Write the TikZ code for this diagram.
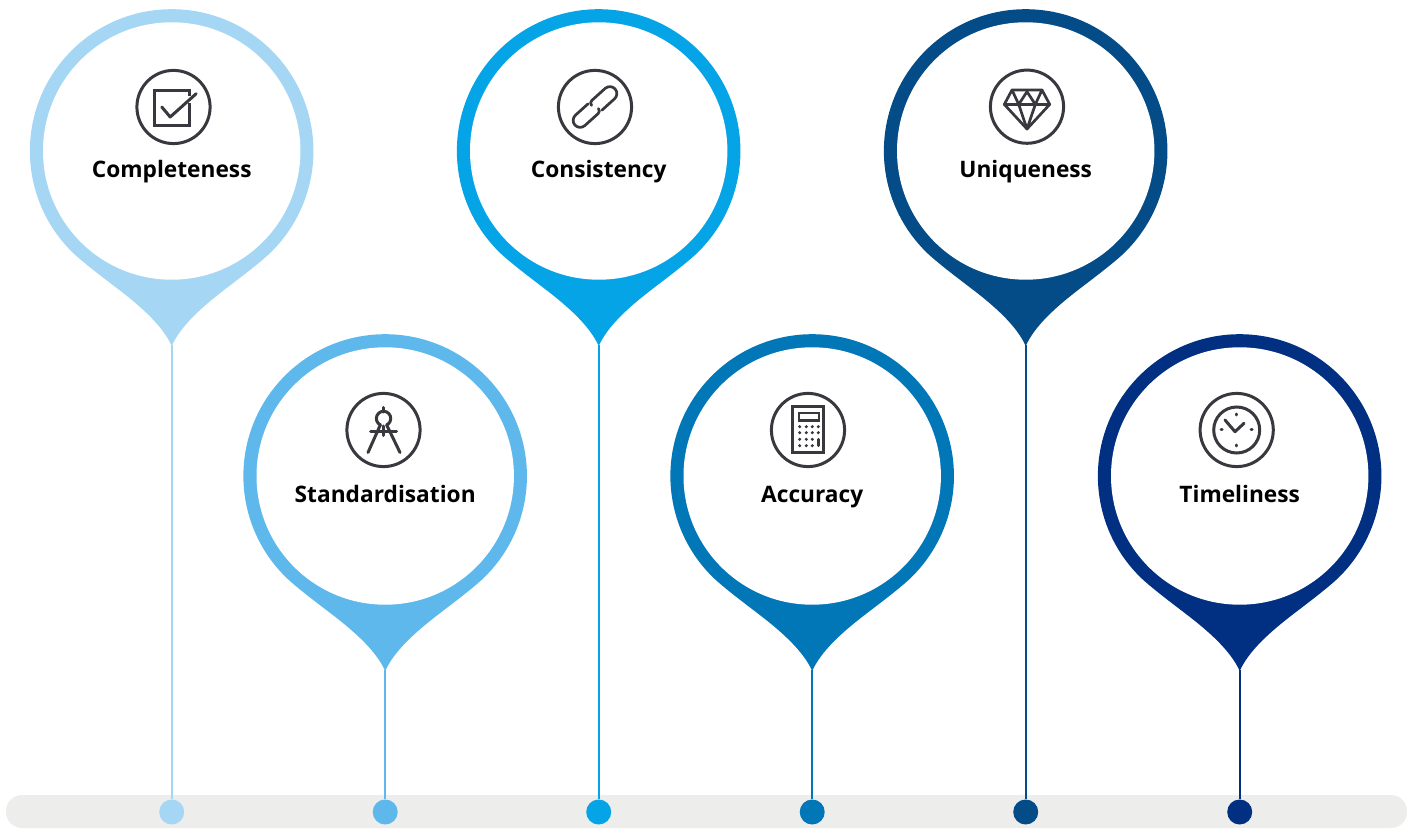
\documentclass[tikz,border=0pt]{standalone}
\usepackage{fontspec}
\setmainfont{Open Sans}
\definecolor{ca}{HTML}{A5D7F5}
\definecolor{cb}{HTML}{5FB8EC}
\definecolor{cc}{HTML}{05A4E6}
\definecolor{cd}{HTML}{0277B8}
\definecolor{ce}{HTML}{034C87}
\definecolor{cf}{HTML}{012F81}
\definecolor{barc}{HTML}{EDEDEC}
\definecolor{iconc}{HTML}{38383E}
\tikzset{
  pinlabel/.style={font=\fontsize{22.7pt}{26pt}\selectfont\bfseries,text=black,anchor=base,inner sep=0pt},
  dotnode/.style={circle,minimum size=25pt,inner sep=0pt,fill=#1},
  stem/.style={draw=#1,line width=2pt},
  iconring/.style={draw=iconc,line width=3pt},
  iconline/.style={draw=iconc,line width=3pt,line cap=round,line join=round},
  iconthin/.style={draw=iconc,line width=2.7pt,line cap=round,line join=round},
}
% name, cx, cy(from top), colour, label
\newcommand{\makepin}[5]{%
  \begin{scope}[shift={(#2,828-#3)}]
    \fill[#4] (0,-195) .. controls (-9,-175) and (-30,-156) .. (-55,-137)
      .. controls (-70,-125.5) and (-84,-115) .. (-96.2,-104.2)
      arc[start angle=227.3,end angle=-47.3,radius=141.8]
      .. controls (84,-115) and (70,-125.5) .. (55,-137)
      .. controls (30,-156) and (9,-175) .. (0,-195) -- cycle;
    \fill[white] (0,0) circle[radius=128.7];
    \coordinate (#1-tip) at (0,-194);
  \end{scope}
  \node[pinlabel] (#1-label) at (#2,828-#3-27) {#5};
  \node[dotnode=#4] (#1-dot) at (#2,16) {};
  \draw[stem=#4] (#1-tip) -- (#1-dot);
}
\newcommand{\iconat}[3]{\begin{scope}[shift={(#1,828-#2)},yscale=-1]
  \draw[iconring] (0,0) circle[radius=36.6];
  #3
\end{scope}}
\begin{document}
\begin{tikzpicture}[x=1pt,y=1pt]
\useasboundingbox (0,0) rectangle (1413,828);
\fill[barc,rounded corners=16pt] (6,0) rectangle (1407,33);
\makepin{a}{171.7}{151}{ca}{Completeness}
\makepin{b}{385.2}{476}{cb}{Standardisation}
\makepin{c}{598.7}{151}{cc}{Consistency}
\makepin{d}{812.2}{476}{cd}{Accuracy}
\makepin{e}{1025.7}{151}{ce}{Uniqueness}
\makepin{f}{1239.7}{476}{cf}{Timeliness}
% checkbox
\iconat{173.5}{107}{
  \draw[iconline,line cap=butt,line join=miter] (15.7,-10.5) -- (15.7,-16) -- (-19.3,-16) -- (-19.3,18.3) -- (15.7,18.3) -- (15.7,-4);
  \draw[iconline] (-11.7,0) -- (-3.3,10) -- (22.7,-13.3);
}
% compass
\iconat{383.5}{430}{
  \draw[iconline] (0,-22.5) -- (0,-18);
  \draw[iconline] (-3,-5) arc[start angle=115,end angle=425,radius=7.2];
  \draw[iconline] (-3.2,-5) -- (-15.5,22.5);
  \draw[iconline] (3.2,-5) -- (16.5,22.5);
  \draw[iconline] (-13,1.5) -- (13,1.5);
  \draw[iconline] (0,-4) -- (0,5.5);
}
% link
\iconat{595}{107}{
  \begin{scope}[rotate=-42]
    \draw[iconthin] (3,7) -- (20,7) arc[start angle=90,end angle=-90,radius=7] -- (2,-7) arc[start angle=270,end angle=180,radius=3.5];
    \draw[iconthin] (-3,-7) -- (-20,-7) arc[start angle=270,end angle=90,radius=7] -- (-2,7) arc[start angle=90,end angle=0,radius=3.5];
  \end{scope}
}
% calculator
\iconat{808}{430}{
  \draw[iconline,line cap=butt,line join=miter] (-15.7,-23.3) rectangle (15.7,22.7);
  \draw[iconline,line width=2.4pt,line cap=butt,line join=miter] (-9.3,-16.7) rectangle (10.7,-9.3);
  \foreach \yy in {-3.3,2.7,9.3,15.7}{
    \foreach \xx in {-8.3,-1.7,4.3}{\fill[iconc] (\xx,\yy) circle[radius=1.7];}
  }
  \foreach \yy in {-3.3,2.7}{\fill[iconc] (10.3,\yy) circle[radius=1.7];}
  \draw[iconline,line width=2.8pt,line cap=round] (10.3,9.3) -- (10.3,15.7);
}
% diamond
\iconat{1027}{106.7}{
  \draw[iconthin] (-15,-16.7) -- (15,-16.7) -- (22.7,-2.3) -- (0,22.3) -- (-22.7,-2.3) -- cycle;
  \draw[iconthin] (-22.7,-2.3) -- (22.7,-2.3);
  \draw[iconthin] (-15,-16.7) -- (-8.3,-2.3) -- (0,-15) -- (8.3,-2.3) -- (15,-16.7);
  \draw[iconthin] (-8.3,-2.3) -- (0,22.3) -- (8.3,-2.3);
}
% clock
\iconat{1236.7}{430}{
  \draw[iconring] (0,0) circle[radius=23];
  \draw[iconline] (-11.7,-10) -- (-1.7,1.7) -- (7.3,-6.7);
  \draw[iconline] (0,-16) -- (0,-15);
  \draw[iconline] (0,15) -- (0,16);
  \draw[iconline] (-15.5,0) -- (-14.5,0);
  \draw[iconline] (14.5,0) -- (15.5,0);
}
\end{tikzpicture}
\end{document}
